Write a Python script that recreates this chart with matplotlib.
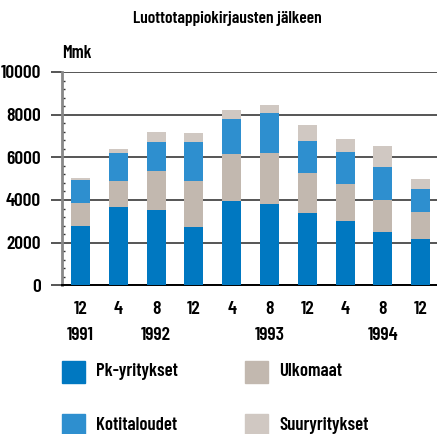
import matplotlib.pyplot as plt
from matplotlib.patches import Rectangle
from matplotlib.ticker import MultipleLocator

months = ['12', '4', '8', '12', '4', '8', '12', '4', '8', '12']
years = ['1991', '', '1992', '', '', '1993', '', '', '1994', '']

pk = [2780, 3670, 3530, 2730, 3950, 3810, 3390, 3010, 2500, 2170]
ulkomaat = [1080, 1220, 1830, 2160, 2200, 2390, 1875, 1730, 1500, 1270]
kotitaloudet = [1080, 1310, 1360, 1830, 1640, 1875, 1500, 1500, 1550, 1080]
suuryritykset = [95, 190, 470, 420, 420, 375, 750, 610, 985, 470]

series = [
    ('Pk-yritykset', pk, '#0078c1'),
    ('Ulkomaat', ulkomaat, '#c2b8af'),
    ('Kotitaloudet', kotitaloudet, '#2e8fcf'),
    ('Suuryritykset', suuryritykset, '#d0c8c2'),
]

plt.rcParams['font.family'] = ['Barlow Condensed', 'DejaVu Sans']
W = 'semibold'

fig = plt.figure(figsize=(4.37, 4.34), dpi=100)
ax = fig.add_axes([62 / 437, 1 - 285.3 / 434, 375 / 437, 213.3 / 434])

x = list(range(len(months)))
bottom = [0] * len(x)
for name, vals, color in series:
    ax.bar(x, vals, bottom=bottom, width=0.5, color=color, zorder=3)
    bottom = [b + v for b, v in zip(bottom, vals)]

ax.set_ylim(0, 10000)
ax.set_xlim(-0.49, 9.43)
ax.yaxis.set_major_locator(MultipleLocator(2000))
ax.yaxis.set_minor_locator(MultipleLocator(400))
ax.grid(axis='y', which='major', color='#555555', linewidth=1.4, zorder=1)
ax.tick_params(axis='y', which='major', length=8, width=1.4, color='#555555',
               labelsize=14, pad=7)
ax.tick_params(axis='y', which='minor', direction='in', length=2, width=1,
               color='#333333')
for lab in ax.get_yticklabels():
    lab.set_fontweight(W)

ax.set_xticks(x)
ax.set_xticklabels([m + '\n' + y for m, y in zip(months, years)],
                   fontsize=14, fontweight=W, linespacing=1.75)
ax.tick_params(axis='x', length=0, pad=11)

for s in ['top', 'right']:
    ax.spines[s].set_visible(False)
ax.spines['left'].set_color('#888888')
ax.spines['left'].set_linewidth(2)
ax.spines['bottom'].set_color('black')
ax.spines['bottom'].set_linewidth(1.4)

fig.text(0.52, 1 - 18 / 434, 'Luottotappiokirjausten jälkeen', ha='center',
         va='center', fontsize=12.5, fontweight=W)
fig.text(62 / 437, 1 - 54 / 434, 'Mmk', ha='left', va='center',
         fontsize=13, fontweight=W)

# legend, 2 x 2 below the plot
legend_pos = [(62, 361), (245, 361), (62, 414), (245, 414)]
for (px, py), (name, vals, color) in zip(legend_pos, series):
    fig.patches.append(Rectangle((px / 437, 1 - (py + 22) / 434), 23 / 437,
                                 22 / 434, transform=fig.transFigure,
                                 color=color, figure=fig))
    fig.text((px + 34) / 437, 1 - (py + 11) / 434, name, ha='left',
             va='center', fontsize=13.5, fontweight=W)

fig.savefig('out.png', dpi=100)
